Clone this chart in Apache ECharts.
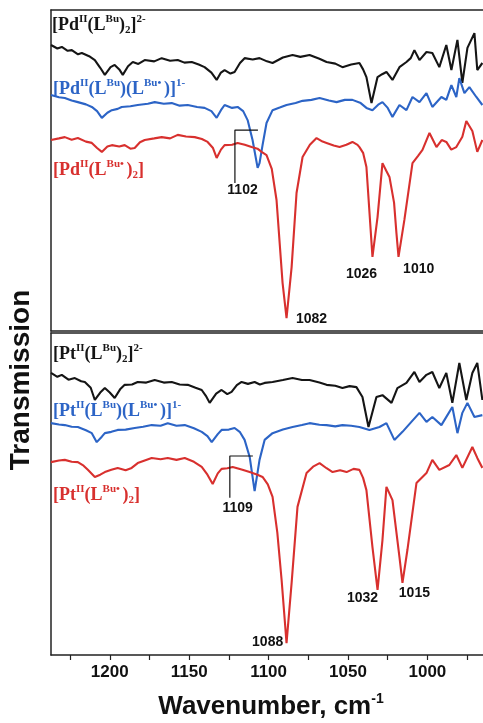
<!DOCTYPE html>
<html><head><meta charset="utf-8">
<script src="https://cdn.jsdelivr.net/npm/echarts@6/dist/echarts.min.js"></script>
<style>html,body{margin:0;padding:0;background:#fff}#c{width:483px;height:723px}</style>
</head><body><div id="c"></div><script>
// Wavenumber axis (cm-1), reversed
const xMin = 965, xMax = 1237;
const xTickLabels = [1200, 1150, 1100, 1050, 1000];
const xTickMarks = [1225, 1200, 1175, 1150, 1125, 1100, 1075, 1050, 1025, 1000, 975];

// Top panel: Pd complexes  [wavenumber, transmission a.u.]
const pdDianion = [[1237,89.1],[1233,88.0],[1230.2,88.5],[1226.5,87.3],[1223.9,87.5],[1220,86.2],[1217.6,86.6],[1213,85.6],[1209.4,84.4],[1206,82.0],[1203.1,79.8],[1199.5,82.2],[1196.9,82.9],[1194,81.5],[1191.8,79.8],[1188.5,82.5],[1185.5,83.8],[1182,83.2],[1178,84.4],[1172,84.0],[1167.3,85.0],[1162,84.2],[1157.2,84.4],[1153,83.6],[1148.4,83.8],[1144,83.0],[1140.3,82.2],[1136,80.5],[1132.7,78.2],[1130,80.5],[1127.7,81.3],[1124,80.2],[1121.4,80.7],[1118,83.5],[1115.1,85.0],[1110,84.6],[1105.7,85.0],[1101,84.0],[1097.5,83.5],[1091,85.2],[1084.9,86.0],[1080,85.4],[1074.2,86.0],[1068,84.8],[1063.5,83.8],[1058,83.3],[1053.5,82.2],[1048,83.0],[1042.8,83.5],[1040.5,81.5],[1038.4,79.1],[1035.2,71.0],[1031.4,79.1],[1028.5,80.0],[1025.8,80.7],[1022.0,78.2],[1017.6,82.2],[1013.2,83.8],[1010.5,85.0],[1008.2,87.5],[1005.0,84.4],[1000.6,86.9],[996.9,86.6],[992.5,82.2],[988.1,89.1],[984.9,81.3],[981.1,90.7],[978.0,77.3],[974.8,88.2],[970.4,92.8],[968.6,81.3],[965.4,83.5]];
const pdMonoanion = [[1237,73.5],[1232,72.8],[1228.3,72.6],[1224,71.8],[1220.1,71.3],[1215,70.6],[1211.3,69.8],[1208,68.5],[1205.0,66.4],[1201.5,68.0],[1198.7,68.8],[1195,69.2],[1192.5,69.8],[1187,70.0],[1182.4,70.4],[1176,70.8],[1171.7,71.3],[1166,70.8],[1161.0,71.0],[1156,70.2],[1150.9,70.4],[1145,69.8],[1140.3,69.5],[1136,68.5],[1132.7,66.4],[1130,68.8],[1127.7,70.4],[1123,69.5],[1119.5,69.8],[1116,68.5],[1113.2,65.7],[1110.1,59.5],[1106.9,50.8],[1105.7,52.3],[1103.8,57.9],[1101.3,64.8],[1097.5,68.8],[1093,69.6],[1088.7,70.4],[1083,71.0],[1078.6,71.7],[1073,72.0],[1067.9,72.6],[1062,71.8],[1057.2,71.3],[1052,72.0],[1047.2,72.0],[1042,71.0],[1038.4,69.5],[1034.6,68.8],[1031,70.5],[1028.3,71.3],[1025,69.5],[1022.0,66.7],[1017.6,70.4],[1013.2,68.8],[1009.4,72.9],[1005.0,71.3],[1000.6,74.1],[996.9,69.8],[991.2,72.9],[988.1,72.0],[984.9,76.6],[981.8,72.9],[979.9,78.8],[976.7,74.1],[973.6,76.0],[969.2,72.9],[965.4,70.4]];
const pdNeutral = [[1237,59.5],[1232,60.0],[1228.3,60.4],[1224,59.6],[1220.1,60.1],[1215,59.0],[1211.3,58.6],[1208,57.0],[1205.0,55.8],[1201.5,57.5],[1198.7,57.9],[1194,57.5],[1190.6,57.9],[1187,56.8],[1184.3,57.0],[1181,58.8],[1178.0,59.5],[1172,60.0],[1167.3,60.4],[1162,60.0],[1157.2,61.1],[1152,60.6],[1146.5,60.4],[1142,59.8],[1138.4,58.9],[1135,57.0],[1132.7,53.9],[1130,56.5],[1127.7,57.9],[1123,58.0],[1119.5,58.6],[1115,58.0],[1110.7,57.3],[1107,56.8],[1104.4,55.8],[1101.3,54.8],[1098,50.5],[1095.0,40.8],[1091.2,15.0],[1088.7,4.0],[1085.5,19.9],[1082.4,43.0],[1078.6,54.2],[1074,58.0],[1069.8,60.1],[1066,59.0],[1063.5,58.6],[1059,57.8],[1055.3,57.3],[1051,58.0],[1047.2,58.9],[1044,58.0],[1042.8,57.3],[1040.5,55.5],[1038.4,51.1],[1034.6,23.1],[1031.4,35.5],[1028.3,52.3],[1026,50.0],[1023.9,48.0],[1021,40.0],[1019.5,30.5],[1018.2,23.1],[1014.5,34.6],[1009.4,52.3],[1006,54.5],[1003.1,56.4],[998.7,61.7],[994.3,57.3],[991,59.5],[988.1,58.9],[985,56.5],[981.8,57.3],[978,60.5],[975.5,65.4],[971.7,62.3],[968.6,55.8],[965.4,59.5]];

// Bottom panel: Pt complexes
const ptDianion = [[1237,87.6],[1233,86.4],[1230.2,87.0],[1226,85.5],[1222.0,86.0],[1218,85.0],[1215.7,84.8],[1212,83.0],[1209.4,79.2],[1206,81.5],[1203.1,82.9],[1200,81.5],[1196.9,79.8],[1193.5,82.5],[1190.6,83.9],[1186,84.0],[1182.4,84.8],[1177,84.6],[1171.7,85.4],[1166,84.6],[1161.0,84.8],[1156,84.0],[1150.9,83.9],[1146,83.0],[1142.1,82.3],[1139.5,80.5],[1137.1,78.3],[1133,81.2],[1129.6,82.3],[1126,81.0],[1123.3,81.7],[1120,83.8],[1117.0,84.8],[1113,84.2],[1108.8,84.8],[1105.5,84.0],[1102.5,84.5],[1097.5,84.8],[1091,85.4],[1084.9,86.0],[1079,85.4],[1074.2,85.4],[1068,84.6],[1063.5,83.9],[1058,83.6],[1053.5,82.9],[1049,83.5],[1044.7,83.2],[1040.9,80.1],[1037.1,70.8],[1032.1,80.1],[1028.3,80.7],[1022.6,78.3],[1018.9,82.9],[1013.2,84.5],[1008.2,87.9],[1005.0,84.8],[1000.6,87.0],[996.9,87.9],[992.5,82.9],[988.1,87.6],[984.3,78.3],[979.9,90.7],[975.5,79.2],[971.7,87.6],[968.6,90.7],[965.4,79.2]];
const ptMonoanion = [[1237,72.0],[1232,71.6],[1228.3,71.4],[1224,70.9],[1220.1,70.8],[1215,69.8],[1211.3,68.9],[1208.2,66.1],[1205,67.8],[1203.1,68.9],[1199,69.3],[1195.0,69.9],[1190,70.0],[1184.3,70.5],[1179,70.9],[1173.6,71.4],[1168,71.2],[1163.5,72.0],[1158,71.2],[1152.8,71.4],[1147,70.4],[1142.1,69.3],[1138.5,68.0],[1135.8,66.1],[1132,68.6],[1129.6,69.9],[1125,70.0],[1121.4,70.5],[1118,69.2],[1115.1,66.8],[1111.9,61.5],[1108.8,50.9],[1105.7,60.6],[1102.5,66.8],[1097.5,68.9],[1091,70.0],[1084.9,70.8],[1079,71.4],[1074.2,72.0],[1068,71.5],[1063.5,71.4],[1058,71.0],[1053.5,71.4],[1048,71.2],[1042.8,70.8],[1036.5,69.9],[1030.2,70.8],[1025.8,72.0],[1020.8,66.8],[1015.7,69.3],[1010.1,72.4],[1005.0,75.2],[1000.6,72.4],[996.9,73.9],[991.2,71.4],[987.4,74.5],[984.3,77.0],[981.1,68.9],[978.0,75.2],[974.8,78.3],[970.4,73.9],[965.4,74.5]];
const ptNeutral = [[1237,59.9],[1232,60.4],[1228.3,60.6],[1224,60.0],[1220.1,59.9],[1216.5,58.8],[1213.8,57.5],[1209.4,55.3],[1206,56.0],[1203.1,56.8],[1199,57.5],[1195.0,58.1],[1190,57.4],[1186.2,58.1],[1182.4,59.6],[1178,60.4],[1173.6,61.2],[1168,60.8],[1163.5,61.2],[1158,60.6],[1152.8,61.2],[1147,60.0],[1142.1,58.4],[1138.5,56.0],[1135.2,53.1],[1132,56.4],[1129.6,57.8],[1126,58.0],[1122.6,58.4],[1117,57.6],[1111.9,56.8],[1107,56.0],[1103.8,55.3],[1100.5,53.0],[1097.5,49.1],[1094.5,38.0],[1091.8,23.3],[1088.7,3.7],[1085.5,22.4],[1081.8,46.0],[1076.1,56.5],[1072,58.5],[1067.9,59.6],[1063.5,58.0],[1059.7,56.8],[1055,57.4],[1050.9,56.8],[1046.5,57.8],[1042.8,57.5],[1040.5,55.0],[1038.4,51.2],[1034.6,33.5],[1031.4,20.2],[1028.3,35.7],[1025.8,52.2],[1022.0,48.1],[1017.6,30.4],[1015.7,22.4],[1012.6,32.6],[1006.9,53.4],[1000.6,56.5],[996.9,60.6],[992.5,57.5],[986.2,59.0],[981.8,62.1],[978.0,58.1],[971.7,64.6],[968.6,61.2],[965.4,58.1]];

// Peak annotations [wavenumber, height, text]
const pdPeakLabels = [[1116.4,43.9,'1102'],[1073.0,3.8,'1082'],[1041.5,17.8,'1026'],[1005.5,19.3,'1010']];
const ptPeakLabels = [[1119.5,45.7,'1109'],[1100.6,4.0,'1088'],[1040.9,17.7,'1032'],[1008.2,19.3,'1015']];
// Bracket markers [wavenumber, height]
const pdBracket = [[1121.2,46.1],[1121.2,62.6],[1106.7,62.6]];
const ptBracket = [[1124.4,48.8],[1124.4,61.8],[1109.9,61.8]];

// Compound labels
const pdLabels = ['[Pd{p|II}{n|(L}{p|Bu}{n|)}{b|2}{n|]}{p|2-}', '[Pd{p|II}{n|(L}{p|Bu}{n|)(L}{p|Bu\u2022 }{n|)]}{p|1-}', '[Pd{p|II}{n|(L}{p|Bu\u2022 }{n|)}{b|2}{n|]}'];
const ptLabels = ['[Pt{p|II}{n|(L}{p|Bu}{n|)}{b|2}{n|]}{p|2-}', '[Pt{p|II}{n|(L}{p|Bu}{n|)(L}{p|Bu\u2022 }{n|)]}{p|1-}', '[Pt{p|II}{n|(L}{p|Bu\u2022 }{n|)}{b|2}{n|]}'];

const BLACK = '#151515', BLUE = '#2c64c6', RED = '#d8302e';
const FRAME = '#222';

const chart = echarts.init(document.getElementById('c'), null, {renderer: 'canvas'});

function richFor(color) {
  const fam = '"Liberation Serif","Times New Roman",serif';
  return {
    n: {fontFamily: fam, fontWeight: 'bold', fontSize: 18, lineHeight: 22, fill: color},
    p: {fontFamily: fam, fontWeight: 'bold', fontSize: 11, verticalAlign: 'top', fill: color},
    b: {fontFamily: fam, fontWeight: 'bold', fontSize: 11, verticalAlign: 'bottom', fill: color}
  };
}
function fixStr(s) { // first chunk before first '{' belongs to n style
  const i = s.indexOf('{');
  return '{n|' + s.slice(0, i) + '}' + s.slice(i);
}
function labelEl(str, x, y, color) {
  return {type: 'text', x: x, y: y, z: 10,
    style: {text: fixStr(str), rich: richFor(color), align: 'left', verticalAlign: 'middle'}};
}

// xAxis indices: 0 = top panel bottom, 1 = top panel top, 2 = bottom panel bottom, 3 = bottom panel top
function lineSeries(data, color, gi) {
  return {type: 'line', data: data, xAxisIndex: gi * 2, yAxisIndex: gi, showSymbol: false, symbol: 'none',
    lineStyle: {color: color, width: 2.1}, itemStyle: {color: color}, smooth: false, animation: false, z: 3};
}
function bracketSeries(data, gi) {
  return {type: 'line', data: data, xAxisIndex: gi * 2, yAxisIndex: gi, symbol: 'none',
    lineStyle: {color: '#111', width: 1.2}, animation: false, z: 4};
}
function peakSeries(arr, gi) {
  return {type: 'scatter', xAxisIndex: gi * 2, yAxisIndex: gi, symbolSize: 0, animation: false, z: 5,
    itemStyle: {opacity: 1},
    data: arr.map(p => ({value: [p[0], p[1]], name: p[2]})),
    label: {show: true, position: 'inside', formatter: p => p.name, color: '#111', opacity: 1,
      fontFamily: '"Liberation Sans", Arial, sans-serif', fontWeight: 'bold', fontSize: 14}};
}

const gridBase = {left: 51, right: 0, show: false};
const xBase = {type: 'value', min: xMin, max: xMax, inverse: true, splitLine: {show: false}};
const plainLine = {axisLine: {show: true, onZero: false, lineStyle: {color: FRAME, width: 1.5}}, axisTick: {show: false}, axisLabel: {show: false}};

chart.setOption({
  animation: false,
  backgroundColor: '#fff',
  grid: [Object.assign({top: 10, height: 321}, gridBase), Object.assign({top: 333, height: 322}, gridBase)],
  xAxis: [
    Object.assign({gridIndex: 0, position: 'bottom'}, plainLine, xBase),
    Object.assign({gridIndex: 0, position: 'top'}, plainLine, xBase),
    Object.assign({gridIndex: 1, position: 'bottom',
      axisLine: {show: true, onZero: false, lineStyle: {color: FRAME, width: 1.5}},
      axisTick: {show: true, inside: false, length: 5, customValues: xTickMarks, lineStyle: {color: FRAME, width: 1.2}},
      axisLabel: {show: true, margin: 9, customValues: xTickLabels, formatter: v => String(v), color: '#111',
        fontFamily: '"Liberation Sans", Arial, sans-serif', fontWeight: 'bold', fontSize: 17}}, xBase),
    Object.assign({gridIndex: 1, position: 'top'}, plainLine, xBase)
  ],
  yAxis: [
    {type: 'value', gridIndex: 0, min: 0, max: 100, position: 'left', splitLine: {show: false},
      axisLine: {show: true, onZero: false, lineStyle: {color: FRAME, width: 1.5}}, axisTick: {show: false}, axisLabel: {show: false}},
    {type: 'value', gridIndex: 1, min: 0, max: 100, position: 'left', splitLine: {show: false},
      axisLine: {show: true, onZero: false, lineStyle: {color: FRAME, width: 1.5}}, axisTick: {show: false}, axisLabel: {show: false}}
  ],
  series: [
    lineSeries(pdDianion, BLACK, 0), lineSeries(pdMonoanion, BLUE, 0), lineSeries(pdNeutral, RED, 0),
    lineSeries(ptDianion, BLACK, 1), lineSeries(ptMonoanion, BLUE, 1), lineSeries(ptNeutral, RED, 1),
    bracketSeries(pdBracket, 0), bracketSeries(ptBracket, 1),
    peakSeries(pdPeakLabels, 0), peakSeries(ptPeakLabels, 1)
  ],
  graphic: [
    labelEl(pdLabels[0], 52, 25, BLACK), labelEl(pdLabels[1], 53, 89, BLUE), labelEl(pdLabels[2], 53, 170, RED),
    labelEl(ptLabels[0], 53, 354, BLACK), labelEl(ptLabels[1], 53, 411, BLUE), labelEl(ptLabels[2], 53, 495, RED),
    {type: 'text', x: 21, y: 380, rotation: Math.PI / 2, z: 10,
      style: {text: 'Transmission', fill: '#111', font: 'bold 28px "Liberation Sans", Arial, sans-serif', align: 'center', verticalAlign: 'middle'}},
    {type: 'text', x: 271, y: 707, z: 10,
      style: {text: '{m|Wavenumber, cm}{s|-1}', align: 'center', verticalAlign: 'middle',
        rich: {m: {fontFamily: '"Liberation Sans", Arial, sans-serif', fontWeight: 'bold', fontSize: 26, lineHeight: 30, fill: '#111'},
               s: {fontFamily: '"Liberation Sans", Arial, sans-serif', fontWeight: 'bold', fontSize: 14, verticalAlign: 'top', fill: '#111'}}}}
  ]
});
</script></body></html>
